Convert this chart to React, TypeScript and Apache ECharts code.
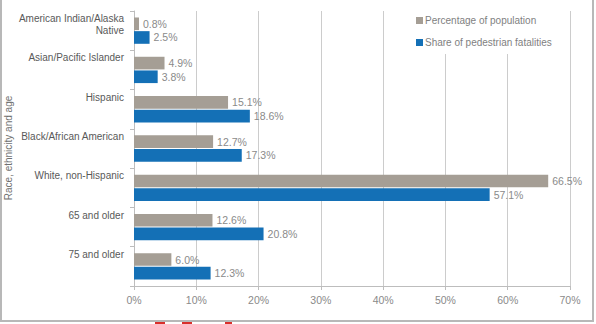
import React, { useEffect, useRef } from "react";
import * as echarts from "echarts";

const categories = [
  "American Indian/Alaska\nNative",
  "Asian/Pacific Islander",
  "Hispanic",
  "Black/African American",
  "White, non-Hispanic",
  "65 and older",
  "75 and older",
];
const population = [0.8, 4.9, 15.1, 12.7, 66.5, 12.6, 6.0];
const fatalities = [2.5, 3.8, 18.6, 17.3, 57.1, 20.8, 12.3];
const seriesNames = ["Percentage of population", "Share of pedestrian fatalities"];
const yAxisTitle = "Race, ethnicity and age";
const xTicks = { min: 0, max: 70, interval: 10 };

const FONT = "Liberation Sans, Arial, sans-serif";

export default function App() {
  const ref = useRef<HTMLDivElement>(null);
  useEffect(() => {
    if (!ref.current) return;
    const chart = echarts.init(ref.current, undefined, { renderer: "svg" });
    const labelCfg = {
      show: true,
      position: "right",
      distance: 4,
      color: "#8a8a8a",
      fontSize: 10.5,
      fontFamily: FONT,
      formatter: (p: any) => Number(p.value).toFixed(1) + "%",
    };
    chart.setOption({
      animation: false,
      backgroundColor: "#ffffff",
      textStyle: { fontFamily: FONT },
      grid: { left: 134, right: 26, top: 11, bottom: 38, containLabel: false, outerBoundsMode: "none" },
      legend: {
        orient: "vertical",
        left: 410,
        top: 9,
        itemWidth: 7,
        itemHeight: 7,
        itemGap: 9,
        padding: [5, 6, 5, 6],
        backgroundColor: "#ffffff",
        icon: "rect",
        textStyle: { color: "#7f7f7f", fontSize: 10, lineHeight: 13, fontFamily: FONT, padding: [0, 0, 0, -3] },
        data: seriesNames,
      },
      xAxis: {
        type: "value",
        min: xTicks.min,
        max: xTicks.max,
        interval: xTicks.interval,
        axisLine: { show: true, lineStyle: { color: "#bdbdbd" } },
        axisTick: { show: true, length: 4, lineStyle: { color: "#bdbdbd" } },
        splitLine: { show: true, lineStyle: { color: "#cccccc" } },
        axisLabel: {
          color: "#8a8a8a",
          fontSize: 10.5,
          fontFamily: FONT,
          margin: 8,
          formatter: "{value}%",
        },
      },
      yAxis: {
        type: "category",
        inverse: true,
        data: categories,
        axisLine: { show: true, lineStyle: { color: "#bdbdbd" } },
        axisTick: { show: true, length: 4, lineStyle: { color: "#bdbdbd" } },
        axisLabel: {
          interval: 0,
          hideOverlap: false,
          margin: 10,
          align: "right",
          verticalAlign: "middle",
          color: "#595959",
          fontSize: 10,
          lineHeight: 12,
          fontFamily: FONT,
          formatter: (v: string) => (v.indexOf("\n") >= 0 ? v + "\n " : v + "\n \n "),
        },
      },
      series: [
        {
          name: seriesNames[0],
          type: "bar",
          data: population,
          barCategoryGap: "33%",
          barGap: "8%",
          itemStyle: { color: "#a59e95" },
          label: labelCfg,
        },
        {
          name: seriesNames[1],
          type: "bar",
          data: fatalities,
          barCategoryGap: "33%",
          barGap: "8%",
          itemStyle: { color: "#1470b6" },
          label: labelCfg,
        },
      ],
      graphic: [
        {
          type: "text",
          x: 8,
          y: 148,
          rotation: Math.PI / 2,
          style: {
            text: yAxisTitle,
            fill: "#707070",
            font: `10px ${FONT}`,
            align: "center",
            verticalAlign: "middle",
          },
        },
        { type: "line", shape: { x1: 1, y1: 0, x2: 1, y2: 322 }, style: { stroke: "#b8b8b8", lineWidth: 2 } },
        { type: "line", shape: { x1: 0, y1: 321, x2: 594, y2: 321 }, style: { stroke: "#b8b8b8", lineWidth: 2 } },
        { type: "line", shape: { x1: 593, y1: 0, x2: 593, y2: 322 }, style: { stroke: "#b8b8b8", lineWidth: 2 } },
        { type: "rect", shape: { x: 155, y: 322, width: 10, height: 2 }, style: { fill: "#d9302c" } },
        { type: "rect", shape: { x: 182, y: 322, width: 10, height: 2 }, style: { fill: "#d9302c" } },
        { type: "rect", shape: { x: 225, y: 322, width: 7, height: 2 }, style: { fill: "#d9302c" } },
      ],
    });
    return () => chart.dispose();
  }, []);
  return <div ref={ref} style={{ width: 596, height: 324, position: "fixed", left: 0, top: 0 }} />;
}
